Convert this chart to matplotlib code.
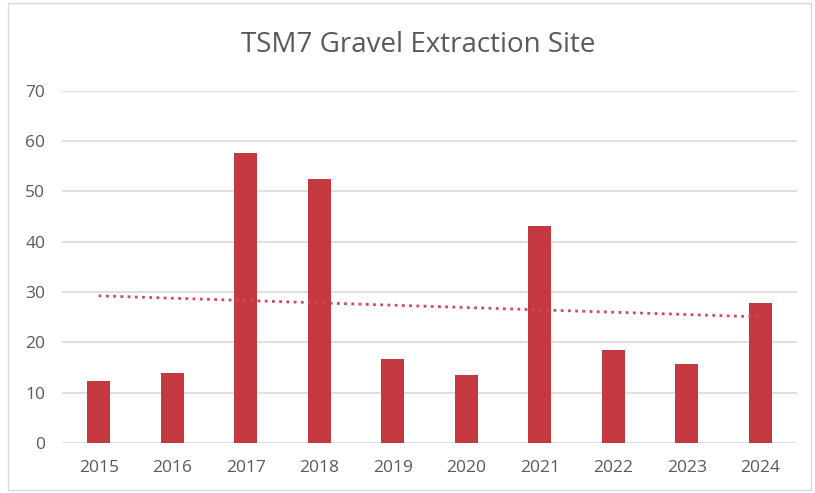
import matplotlib
matplotlib.use("Agg")
import matplotlib.pyplot as plt
from matplotlib.patches import Rectangle
import numpy as np

years = ["2015", "2016", "2017", "2018", "2019", "2020", "2021", "2022", "2023", "2024"]
values = [12.3, 14.0, 57.7, 52.4, 16.6, 13.5, 43.2, 18.4, 15.6, 27.8]
yticks = [0, 10, 20, 30, 40, 50, 60, 70]
title = "TSM7 Gravel Extraction Site"

plt.rcParams['font.family'] = ['Open Sans', 'DejaVu Sans']

fig = plt.figure(figsize=(8.15, 4.93), dpi=100)
ax = fig.add_axes([62/815, 1-443/493, 735/815, (443-90.7)/493])

x = np.arange(len(years))
ax.bar(x, values, width=0.31, color="#C4393F", zorder=3)

coef = np.polyfit(x, values, 1)
trend = np.polyval(coef, x)
ax.plot(x, trend, linestyle=(0, (1, 1.6)), color="#D24A5A", linewidth=2.0, zorder=4)

ax.set_xlim(-0.5, len(years) - 0.5)
ax.set_ylim(0, 70)
ax.set_yticks(yticks)
ax.set_xticks(x)
ax.set_xticklabels(years)
ax.yaxis.grid(True, color="#D9D9D9", linewidth=1.2, zorder=0)
ax.set_axisbelow(True)
for s in ax.spines.values():
    s.set_visible(False)
ax.tick_params(axis='both', length=0, labelsize=12.5, colors="#595959")
ax.tick_params(axis='y', pad=12)
ax.tick_params(axis='x', pad=12)

fig.text(418/815, 1-45/493, title, ha='center', va='center', fontsize=20, color="#595959")

fig.patches.append(Rectangle((8/815, 3/493), 803/815, 487/493, transform=fig.transFigure,
                             fill=False, edgecolor="#D9D9D9", linewidth=1.0))

fig.savefig("out.png", dpi=100, facecolor="white")
